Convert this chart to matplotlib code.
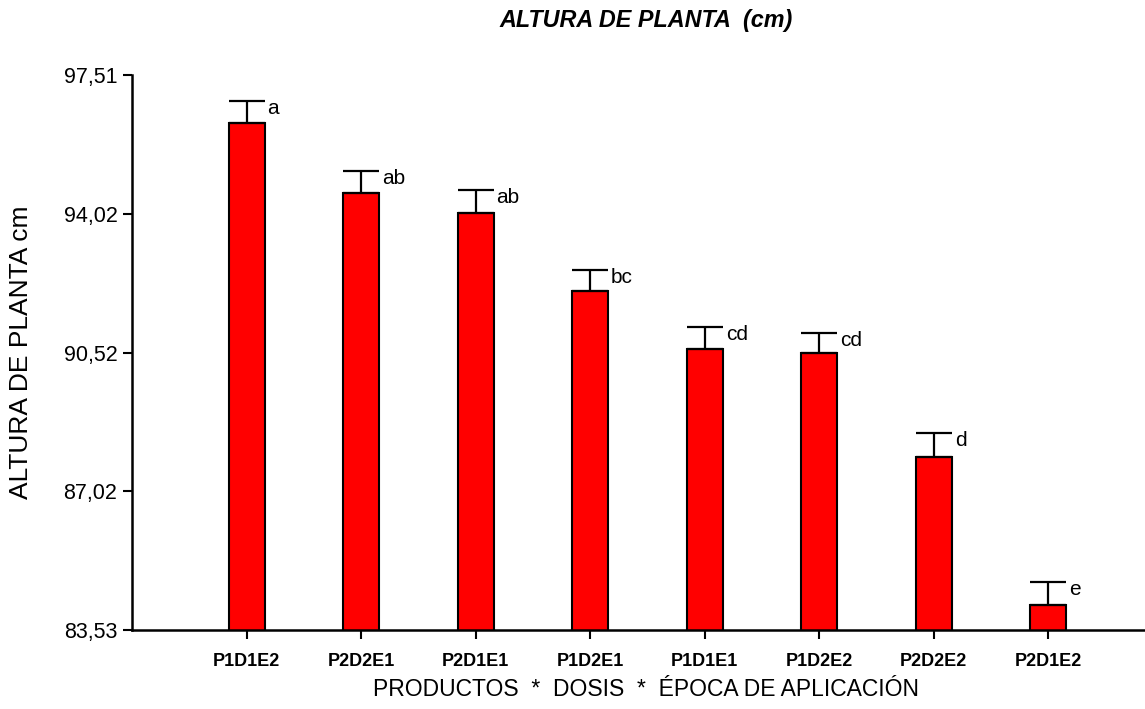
import matplotlib
matplotlib.use("Agg")
import matplotlib.pyplot as plt
from matplotlib.transforms import offset_copy

plt.rcParams['font.family'] = ['Liberation Sans', 'DejaVu Sans']

# Treatment means (plant height, cm), standard errors and significance letters
categories = ["P1D1E2", "P2D2E1", "P2D1E1", "P1D2E1", "P1D1E1", "P1D2E2", "P2D2E2", "P2D1E2"]
heights = [96.30, 94.53, 94.04, 92.07, 90.60, 90.50, 87.90, 84.16]
errors = [0.56, 0.56, 0.57, 0.53, 0.56, 0.52, 0.60, 0.59]
letters = ["a", "ab", "ab", "bc", "cd", "cd", "d", "e"]
y_ticks = [83.53, 87.02, 90.52, 94.02, 97.51]
y_tick_labels = ["83,53", "87,02", "90,52", "94,02", "97,51"]

W, H = 1145, 709
fig = plt.figure(figsize=(W / 100, H / 100), dpi=100)
ax = fig.add_axes([132 / W, 79 / H, 1 - 132 / W, (630 - 75) / H])

x = list(range(len(categories)))
ax.bar(x, heights, width=0.314, color="#FF0000", edgecolor="black", linewidth=1.5, zorder=2)
ax.errorbar(x, heights, yerr=[[0] * len(errors), errors], fmt="none",
            ecolor="black", elinewidth=1.6, capsize=13, capthick=1.6, zorder=3)

# significance letters next to the upper caps
for xi, h, e, lab in zip(x, heights, errors, letters):
    tr = offset_copy(ax.transData, fig=fig, x=21, y=-13, units="dots")
    ax.text(xi, h + e, lab, transform=tr, ha="left", va="baseline", fontsize=15)

ax.set_xlim(-1, 7.845)
ax.set_ylim(y_ticks[0], y_ticks[-1])
ax.set_yticks(y_ticks)
ax.set_yticklabels(y_tick_labels, fontsize=15.5)
ax.set_xticks(x)
ax.set_xticklabels(categories, fontsize=13, fontweight="bold")
ax.tick_params(axis="both", length=6.5, width=1.5, color="black")
ax.tick_params(axis="y", pad=4)
ax.tick_params(axis="x", pad=10)

for s in ("top", "right"):
    ax.spines[s].set_visible(False)
for s in ("left", "bottom"):
    ax.spines[s].set_linewidth(1.8)

fig.text(646 / W, 1 - 20 / H, "ALTURA DE PLANTA  (cm)", ha="center", va="center",
         fontsize=16.8, fontweight="bold", fontstyle="italic")
fig.text(646 / W, 1 - 690 / H, "PRODUCTOS  *  DOSIS  *  ÉPOCA DE APLICACIÓN",
         ha="center", va="center", fontsize=16.5)
fig.text(21 / W, 1 - 352 / H, "ALTURA DE PLANTA cm", rotation=90,
         ha="center", va="center", fontsize=19)

fig.savefig("out.png", dpi=100)
